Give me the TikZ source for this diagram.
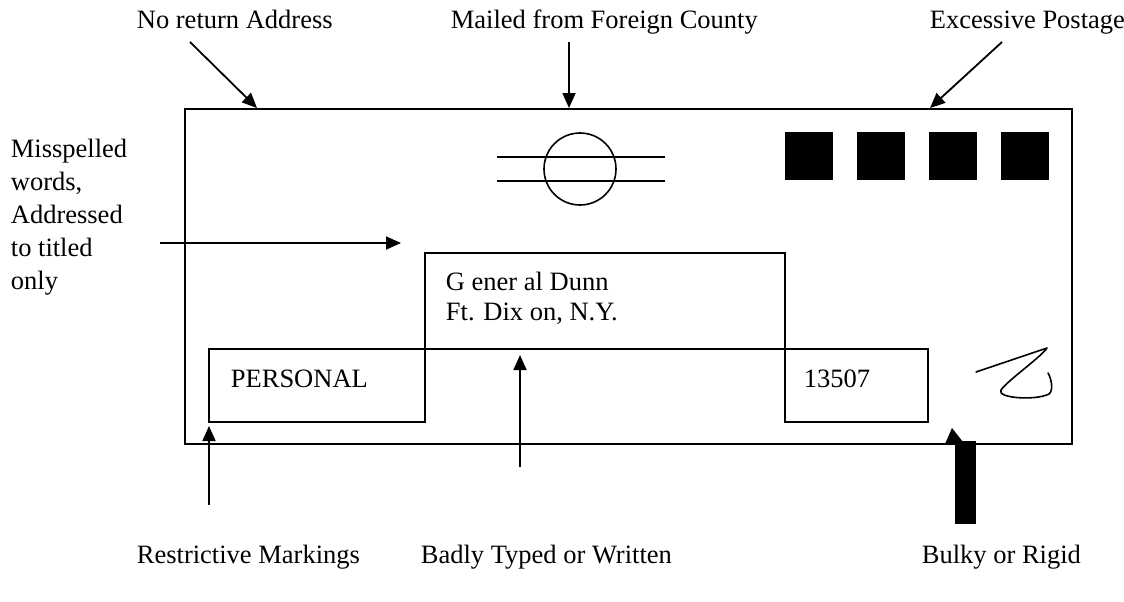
\documentclass[tikz,border=0pt]{standalone}
\usepackage{fontspec}
\setmainfont{Liberation Serif}
\usetikzlibrary{arrows.meta}
\begin{document}
\begin{tikzpicture}[x=1pt,y=-1pt,
  line width=1.8pt,
  lbl/.style={anchor=base west,inner sep=0pt,font=\fontsize{26.5}{33}\selectfont},
  pointer/.style={-{Triangle[length=15pt,width=13pt]}},
  stamp/.style={fill=black,draw=none},
  mailbox/.style={draw,line width=1.8pt}]
\useasboundingbox (0,0) rectangle (1124,602);

% envelope outline
\draw[mailbox] (185,109) rectangle (1072,444);

% postmark
\node[draw,circle,minimum size=72pt,inner sep=0pt,line width=1.6pt] (pm) at (580,169) {};
\draw[line width=1.6pt] (497,157) -- (665,157);
\draw[line width=1.6pt] (497,181) -- (665,181);

% stamps
\foreach \i in {0,1,2,3}
  \fill[stamp] (785+72*\i,132) rectangle ++(48,48);

% address area
\draw[mailbox] (425,253) rectangle (785,349);
\draw[mailbox] (209,349) rectangle (425,422);
\draw[mailbox] (785,349) rectangle (928,422);

\node[lbl] (addr1) at (445,290) {G ener al Dunn};
\node[lbl] (addr2) at (445,320) {Ft. Dix on, N.Y.};
\node[lbl] (pers) at (230,387) {PERSONAL};
\node[lbl] (zip) at (803,387) {13507};

% signature scrawl
\draw[line width=1.6pt,line cap=round,line join=round]
  (976,372) -- (1047,348)
  .. controls (1040,358) and (1008,380) .. (1001,390)
  .. controls (996,398) and (1035,401) .. (1049,394)
  .. controls (1054,390) and (1051,378) .. (1048,373);

% top labels
\node[lbl] (noret) at (136,29) {No return Address};
\node[lbl] (foreign) at (450,29) {Mailed from Foreign County};
\node[lbl] (postage) at (929,29) {Excessive Postage};

% left label
\node[lbl,align=left,anchor=north west] (missp) at (10,138)
  {Misspelled\\words,\\Addressed\\to titled\\only};

% bottom labels
\node[lbl] (restr) at (136,563) {Restrictive Markings};
\node[lbl] (badly) at (420,563) {Badly Typed or Written};
\node[lbl] (bulky) at (921,563) {Bulky or Rigid};

% pointer ends
\coordinate (noretS) at (190,42);
\coordinate (noretE) at (257,108);
\coordinate (forS) at (569,42);
\coordinate (forE) at (569,108);
\coordinate (posS) at (1002,42);
\coordinate (posE) at (930,108);
\coordinate (misS) at (160,243);
\coordinate (misE) at (401,243);
\coordinate (resS) at (209,505);
\coordinate (resE) at (209,426);
\coordinate (badS) at (520,467);
\coordinate (badE) at (520,355);

\draw[pointer] (noretS) -- (noretE);
\draw[pointer] (forS) -- (forE);
\draw[pointer] (posS) -- (posE);
\draw[pointer] (misS) -- (misE);
\draw[pointer] (resS) -- (resE);
\draw[pointer] (badS) -- (badE);

% bulky item: thick bar with a small head
\fill (955,441) rectangle (976,524);
\fill (952,428) -- (945,444) -- (963,442) -- cycle;
\end{tikzpicture}
\end{document}
